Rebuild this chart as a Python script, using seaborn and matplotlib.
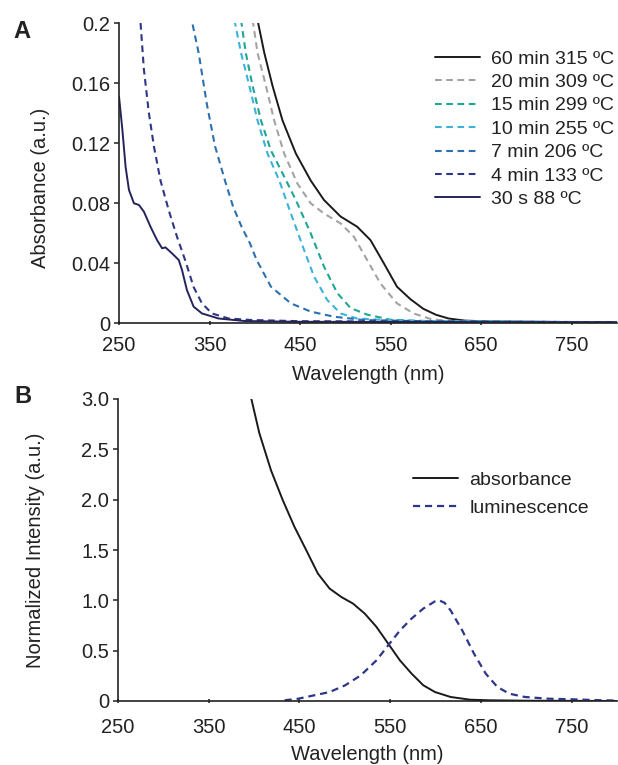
import matplotlib
matplotlib.use("Agg")
import matplotlib.pyplot as plt
import seaborn as sns
import pandas as pd

# ---------------- data ----------------
# Panel A: absorbance vs wavelength
wl_60 = [403, 410.5, 419.6, 430.6, 445.3, 461.7, 476.4, 494.7, 513, 527.7, 542.3, 557, 571.6, 586, 600, 614, 632, 660, 700, 800]
ab_60 = [0.202, 0.180, 0.158, 0.135, 0.113, 0.095, 0.082, 0.071, 0.0642, 0.0553, 0.040, 0.0242, 0.016, 0.0095, 0.0055, 0.003, 0.0016, 0.001, 0.0008, 0.0005]

wl_20 = [397.6, 403, 412.3, 421.4, 432.4, 447, 461.7, 476.4, 494.7, 509.4, 524, 538.7, 557, 575.3, 595.4, 620, 660, 800]
ab_20 = [0.202, 0.180, 0.158, 0.135, 0.113, 0.093, 0.0798, 0.073, 0.0664, 0.0576, 0.042, 0.0264, 0.0131, 0.0064, 0.0024, 0.0012, 0.0008, 0.0005]

wl_15 = [384.8, 390, 397.6, 406.8, 417.8, 430.6, 445.3, 461.7, 476.4, 491, 505.7, 524, 549.6, 600, 800]
ab_15 = [0.202, 0.18, 0.158, 0.135, 0.115, 0.0998, 0.082, 0.0598, 0.0376, 0.02, 0.01, 0.0056, 0.0022, 0.001, 0.0005]

wl_10 = [377.5, 384.8, 394, 403, 414, 427, 439.8, 454.4, 465.4, 480, 494.7, 513, 560, 800]
ab_10 = [0.202, 0.18, 0.158, 0.135, 0.113, 0.095, 0.073, 0.0487, 0.031, 0.0153, 0.0064, 0.003, 0.0015, 0.0005]

wl_7 = [331.3, 338, 347, 356, 367, 376, 385.5, 394.7, 402, 417.8, 439.8, 461.7, 487.4, 520, 600, 800]
ab_7 = [0.199, 0.18, 0.146, 0.118, 0.095, 0.0776, 0.064, 0.053, 0.042, 0.0242, 0.0131, 0.0076, 0.0042, 0.002, 0.001, 0.0005]

wl_4 = [273.8, 277.5, 283, 288.5, 295.8, 305, 314, 323, 332.4, 341.6, 352.6, 371, 396.5, 450, 800]
ab_4 = [0.2, 0.169, 0.14, 0.118, 0.095, 0.075, 0.0576, 0.042, 0.024, 0.0131, 0.0064, 0.003, 0.002, 0.0012, 0.0005]

wl_30s = [250, 253.7, 257.3, 261, 266.5, 272, 277.5, 284.8, 292, 297.6, 301.3, 308.6, 316, 319.6, 325, 332.4, 341.6, 360, 389, 450, 800]
ab_30s = [0.151, 0.129, 0.104, 0.0887, 0.0798, 0.0787, 0.0742, 0.0642, 0.0553, 0.0498, 0.0504, 0.0464, 0.042, 0.0353, 0.022, 0.0109, 0.0064, 0.003, 0.0013, 0.0008, 0.0005]

labels_a = ["60 min 315 ºC", "20 min 309 ºC", "15 min 299 ºC", "10 min 255 ºC",
            "7 min 206 ºC", "4 min 133 ºC", "30 s 88 ºC"]

# Panel B: normalized absorbance and luminescence
wl_abs = [397, 405.8, 418.7, 431.6, 444.5, 457.4, 470.3, 483.2, 496, 509, 522, 534.9, 547.8, 560.7, 573.6, 586.5, 599.4, 616.6, 638, 659.6, 700, 800]
in_abs = [3.0, 2.66, 2.29, 1.995, 1.73, 1.50, 1.266, 1.117, 1.034, 0.968, 0.868, 0.736, 0.57, 0.404, 0.272, 0.156, 0.089, 0.04, 0.013, 0.007, 0.003, 0.0]

wl_lum = [433.7, 448.8, 466, 483.2, 500.4, 517.6, 534.9, 547.8, 560.7, 573.6, 586.5, 599.4, 604, 610, 616.6, 629.5, 642.4, 655.3, 668.2, 681.2, 698.4, 724, 750, 784.4, 800]
in_lum = [0.007, 0.023, 0.056, 0.089, 0.156, 0.255, 0.404, 0.553, 0.70, 0.819, 0.918, 0.99, 1.0, 0.975, 0.90, 0.70, 0.47, 0.272, 0.139, 0.073, 0.04, 0.023, 0.017, 0.007, 0.005]

labels_b = ["absorbance", "luminescence"]

x_ticks = [250, 350, 450, 550, 650, 750]
ya_ticks = [0, 0.04, 0.08, 0.12, 0.16, 0.2]
ya_ticklabels = ["0", "0.04", "0.08", "0.12", "0.16", "0.2"]
yb_ticks = [0, 0.5, 1.0, 1.5, 2.0, 2.5, 3.0]
yb_ticklabels = ["0", "0.5", "1.0", "1.5", "2.0", "2.5", "3.0"]

# ---------------- styling ----------------
sns.set_theme(style="ticks")
plt.rcParams["font.family"] = ["Liberation Sans", "DejaVu Sans"]
FS = 14.5
LFS = 14
TXT = "#222222"

colors_a = ["#1a1a1a", "#a3a3a3", "#1fa693", "#3cb2da", "#2d70b0", "#2e3688", "#24245c"]
dashed = (0, (3.2, 2.2))
styles_a = ["-", dashed, dashed, dashed, dashed, dashed, "-"]

W, H = 618, 765
fig = plt.figure(figsize=(W / 100, H / 100), dpi=100)
axA = fig.add_axes([119 / W, 1 - 323 / H, 498 / W, 300 / H])
axB = fig.add_axes([118 / W, 1 - 701 / H, 499 / W, 302 / H])

series_a = [(wl_60, ab_60), (wl_20, ab_20), (wl_15, ab_15), (wl_10, ab_10),
            (wl_7, ab_7), (wl_4, ab_4), (wl_30s, ab_30s)]
for (xs, ys), lab, c, ls in zip(series_a, labels_a, colors_a, styles_a):
    df = pd.DataFrame({"wl": xs, "a": ys})
    sns.lineplot(data=df, x="wl", y="a", ax=axA, color=c, linestyle=ls,
                 linewidth=1.4 if ls == "-" else 1.5, label=lab)

dfb1 = pd.DataFrame({"wl": wl_abs, "v": in_abs})
dfb2 = pd.DataFrame({"wl": wl_lum, "v": in_lum})
sns.lineplot(data=dfb1, x="wl", y="v", ax=axB, color="#1a1a1a", linewidth=1.4, label=labels_b[0])
sns.lineplot(data=dfb2, x="wl", y="v", ax=axB, color="#2e3688", linestyle=dashed,
             linewidth=1.6, label=labels_b[1])

for ax, yt, ytl, ylim, xpad, lpad in [(axA, ya_ticks, ya_ticklabels, (0, 0.2), 7.5, 7),
                                      (axB, yb_ticks, yb_ticklabels, (0, 3.0), 10.5, 5.5)]:
    ax.set_xlim(250, 800)
    ax.set_ylim(*ylim)
    ax.set_xticks(x_ticks)
    ax.set_xticklabels([str(t) for t in x_ticks])
    ax.set_yticks(yt)
    ax.set_yticklabels(ytl)
    for s in ["top", "right"]:
        ax.spines[s].set_visible(False)
    for s in ["left", "bottom"]:
        ax.spines[s].set_color(TXT)
        ax.spines[s].set_linewidth(1.2)
    ax.tick_params(axis="both", labelsize=FS, colors=TXT, width=1.1, length=3.5)
    ax.tick_params(axis="x", direction="inout", pad=xpad)
    ax.tick_params(axis="y", direction="out", pad=3)
    ax.set_xlabel("Wavelength (nm)", fontsize=FS, color=TXT, labelpad=lpad)
    ax.patch.set_alpha(0)

axA.set_ylabel("Absorbance (a.u.)", fontsize=FS, color=TXT)
axA.yaxis.set_label_coords(-0.139, 0.452)
axB.set_ylabel("Normalized Intensity (a.u.)", fontsize=FS, color=TXT)
axB.yaxis.set_label_coords(-0.147, 0.5)

legA = axA.legend(loc="upper left", bbox_to_anchor=(435 / W, 1 - 50 / H),
                  bbox_transform=fig.transFigure, frameon=False, fontsize=LFS,
                  handlelength=2.3, handletextpad=0.6, labelspacing=0.3,
                  borderpad=0, borderaxespad=0)
legB = axB.legend(loc="upper left", bbox_to_anchor=(413 / W, 1 - 471 / H),
                  bbox_transform=fig.transFigure, frameon=False, fontsize=LFS,
                  handlelength=2.3, handletextpad=0.6, labelspacing=0.55,
                  borderpad=0, borderaxespad=0)
for leg in (legA, legB):
    for t in leg.get_texts():
        t.set_color(TXT)

fig.text(22 / W, 1 - 31 / H, "A", fontsize=17, fontweight="bold", color=TXT,
         ha="center", va="center")
fig.text(23 / W, 1 - 396 / H, "B", fontsize=17, fontweight="bold", color=TXT,
         ha="center", va="center")

fig.savefig("out.png", dpi=100)
